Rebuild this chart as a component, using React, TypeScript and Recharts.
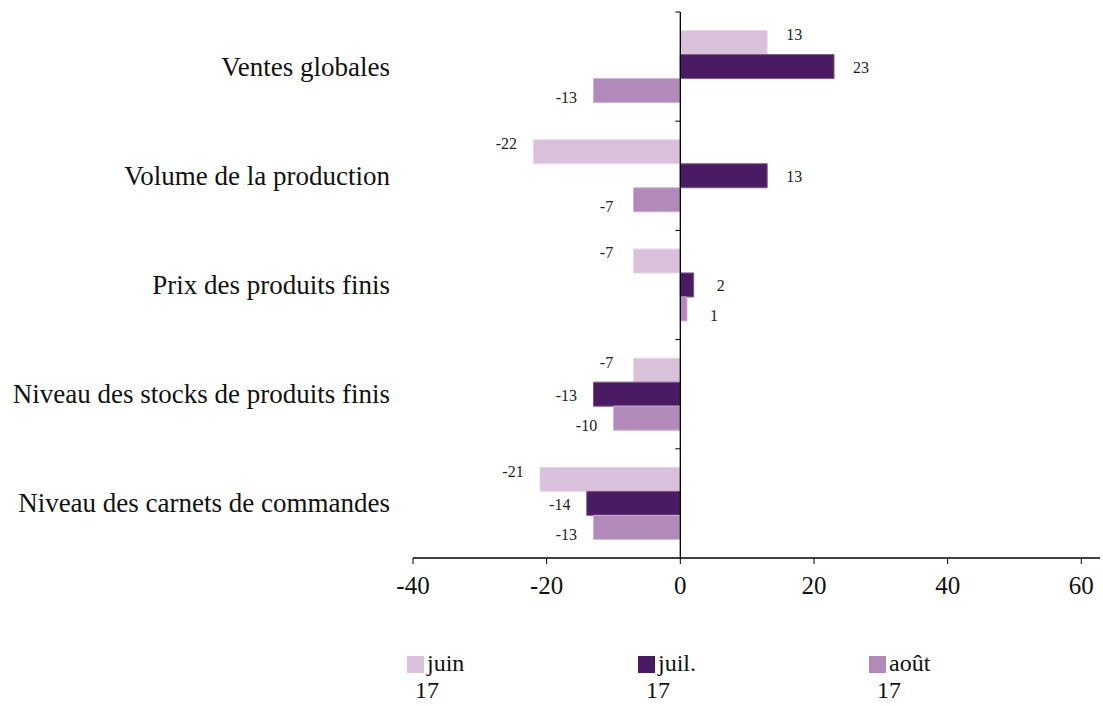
import React from 'react';
import { BarChart, Bar, XAxis, YAxis, ReferenceLine, LabelList, Legend } from 'recharts';

const categories = [
  'Ventes globales',
  'Volume de la production',
  'Prix des produits finis',
  'Niveau des stocks de produits finis',
  'Niveau des carnets de commandes',
];
const juin17 = [13, -22, -7, -7, -21];
const juil17 = [23, 13, 2, -13, -14];
const aout17 = [-13, -7, 1, -10, -13];
const seriesNames = ['juin 17', 'juil. 17', 'août 17'];
const colors = ['#D9C0DB', '#4A1A62', '#B18AB9'];
const strokes = ['#E8D8EA', '#7A5A8A', '#CDB2D3'];
const xTicks = [-40, -20, 0, 20, 40, 60];
const xDomain = [-40, 62.8];

const data = categories.map((c, i) => ({
  cat: c,
  juin: juin17[i],
  juil: juil17[i],
  aout: aout17[i],
}));

const FONT = 'Liberation Serif';
const CHART_W = 1103;
const CHART_H = 706;
const MARGIN = { top: 12, right: 3, bottom: 0, left: 0 };
const Y_W = 413;
const X_H = 94;
const PLOT_W = CHART_W - MARGIN.left - MARGIN.right - Y_W;
const PLOT_H = CHART_H - MARGIN.top - MARGIN.bottom - X_H;
const ZERO_X = MARGIN.left + Y_W + (PLOT_W * (0 - xDomain[0])) / (xDomain[1] - xDomain[0]);

const makeLabel = (dy: number) => (props: any) => {
  const { x, y, width, height, value } = props;
  const end = x + width;
  const v = Number(value);
  const cx = v >= 0 ? end + 27 : end - 27;
  return (
    <text x={cx} y={y + height / 2 + dy} textAnchor="middle" dominantBaseline="central"
      style={{ fontFamily: FONT }} fontSize={16} fill="#222">
      {v}
    </text>
  );
};

const CatTick = (props: any) => {
  const { x, y, payload } = props;
  const half = payload && payload.offset ? payload.offset : PLOT_H / categories.length / 2;
  return (
    <g>
      <text x={x - 15} y={y} textAnchor="end" dominantBaseline="central" style={{ fontFamily: FONT }} fontSize={27} fill="#111">
        {payload.value}
      </text>
      <line x1={ZERO_X - 5} x2={ZERO_X} y1={y - half} y2={y - half} stroke="#000" strokeWidth={1} />
    </g>
  );
};

const LegendContent = () => (
  <div style={{ display: 'flex', paddingLeft: 407, fontFamily: FONT, fontSize: 24, color: '#111', lineHeight: '27px' }}>
    {seriesNames.map((n, i) => {
      const [a, b] = n.split(' ');
      return (
        <div key={n} style={{ width: 235, display: 'flex' }}>
          <div style={{ width: 17, height: 17, background: colors[i], marginTop: 6, marginRight: 3, flexShrink: 0 }} />
          <div style={{ width: 60 }}>
            <div>{a}</div>
            <div style={{ marginLeft: -12 }}>{b}</div>
          </div>
        </div>
      );
    })}
  </div>
);

export default function App() {
  return (
    <div style={{ position: 'absolute', left: 0, top: 0, background: '#fff' }}>
      <BarChart
        width={CHART_W}
        height={CHART_H}
        data={data}
        layout="vertical"
        margin={MARGIN}
        barCategoryGap="17%"
        barGap={0}
      >
        <XAxis
          type="number"
          domain={xDomain}
          ticks={xTicks}
          allowDataOverflow
          axisLine={{ stroke: '#000', strokeWidth: 1.3 }}
          tickLine={{ stroke: '#000' }}
          tickSize={6}
          height={X_H}
          tick={{ fontFamily: FONT, fontSize: 25, fill: '#111', dy: 10 }}
        />
        <YAxis
          type="category"
          dataKey="cat"
          width={Y_W}
          axisLine={false}
          tickLine={false}
          tick={<CatTick />}
        />
        <Bar dataKey="juin" name={seriesNames[0]} fill={colors[0]} stroke={strokes[0]} isAnimationActive={false}>
          <LabelList dataKey="juin" content={makeLabel(-8)} />
        </Bar>
        <Bar dataKey="juil" name={seriesNames[1]} fill={colors[1]} stroke={strokes[1]} isAnimationActive={false}>
          <LabelList dataKey="juil" content={makeLabel(1)} />
        </Bar>
        <Bar dataKey="aout" name={seriesNames[2]} fill={colors[2]} stroke={strokes[2]} isAnimationActive={false}>
          <LabelList dataKey="aout" content={makeLabel(7)} />
        </Bar>
        <ReferenceLine x={0} stroke="#000" strokeWidth={1.3} />
        <Legend verticalAlign="bottom" content={<LegendContent />} wrapperStyle={{ bottom: 2, left: 0 }} />
      </BarChart>
    </div>
  );
}
